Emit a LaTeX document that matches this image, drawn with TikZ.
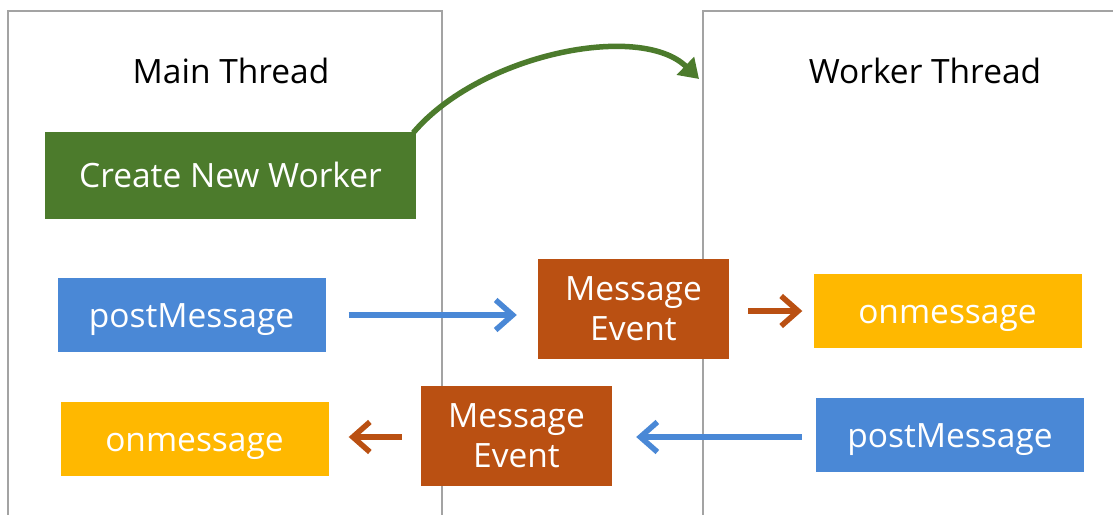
\documentclass[tikz,border=0pt]{standalone}
\usepackage{fontspec}
\setmainfont{Open Sans}
\usetikzlibrary{arrows.meta}
\definecolor{frame}{HTML}{A3A3A3}
\definecolor{wgreen}{HTML}{4C7B2C}
\definecolor{wblue}{HTML}{4A88D6}
\definecolor{wbrown}{HTML}{BA5012}
\definecolor{wyellow}{HTML}{FFB800}
\tikzset{
  box/.style={inner sep=0pt, text=white, align=center,
    font=\fontsize{33.5}{40}\selectfont},
  oneline/.style={text height=24pt, text depth=0pt},
  createbox/.style={box, oneline, fill=wgreen, minimum width=371pt, minimum height=87pt},
  postbox/.style={box, oneline, fill=wblue, minimum width=268pt, minimum height=74pt},
  onbox/.style={box, oneline, fill=wyellow, minimum width=268pt, minimum height=74pt},
  eventbox/.style={box, fill=wbrown, minimum width=191pt, minimum height=100pt},
  title/.style={inner sep=0pt, oneline, font=\fontsize{33.5}{40}\selectfont},
  threadframe/.style={draw=frame, line width=1.6pt},
  flowarrow/.style={line width=5.5pt,
    -{Straight Barb[length=17pt, width=30pt, line width=5.5pt]}},
  bluearrow/.style={flowarrow, draw=wblue},
  brownarrow/.style={flowarrow, draw=wbrown},
  greenarrow/.style={draw=wgreen, line width=5.5pt,
    -{Triangle[length=19pt, width=24pt]}}
}
\begin{document}
\begin{tikzpicture}[x=1pt, y=-1pt]
  \useasboundingbox (0,0) rectangle (1113,514);
  \fill[white] (0,0) rectangle (1113,514);

  % thread frames (open at the bottom / right)
  \draw[threadframe] (8,530) -- (8,11) -- (442,11) -- (442,530);
  \draw[threadframe] (703,530) -- (703,11) -- (1130,11);

  \node[title] (mt) at (231,71) {Main Thread};
  \node[title] (wt) at (925,71) {Worker Thread};

  % main thread
  \node[createbox] (create) at (230.5,175.5) {Create New Worker};
  \node[postbox] (mpost) at (191.5,315) {postMessage};
  \node[onbox] (mon) at (194.5,439) {onmessage};

  % message events
  \node[eventbox] (ev1) at (633.5,309) {Message\\Event};
  \node[eventbox] (ev2) at (516.5,435.5) {Message\\Event};

  % worker thread
  \node[onbox] (won) at (947.5,311) {onmessage};
  \node[postbox] (wpost) at (950,435) {postMessage};

  % worker creation
  \coordinate (wstart) at (create.north east);
  \coordinate (wend) at (699,79);
  \draw[greenarrow] ([xshift=-3pt,yshift=-1pt]wstart) .. controls (480,54) and (640,22) .. (wend);

  % message flow
  \draw[bluearrow] ([xshift=23pt]mpost.east) -- ([xshift=-21pt]ev1.west |- mpost.east);
  \draw[brownarrow] ([xshift=19pt]ev1.east |- won.west) -- ([xshift=-11pt]won.west);
  \draw[bluearrow] ([xshift=-14pt]wpost.west |- 0,437) -- ([xshift=24pt]ev2.east |- 0,437);
  \draw[brownarrow] ([xshift=-19pt]ev2.west |- 0,437) -- ([xshift=20pt]mon.east |- 0,437);
\end{tikzpicture}
\end{document}
